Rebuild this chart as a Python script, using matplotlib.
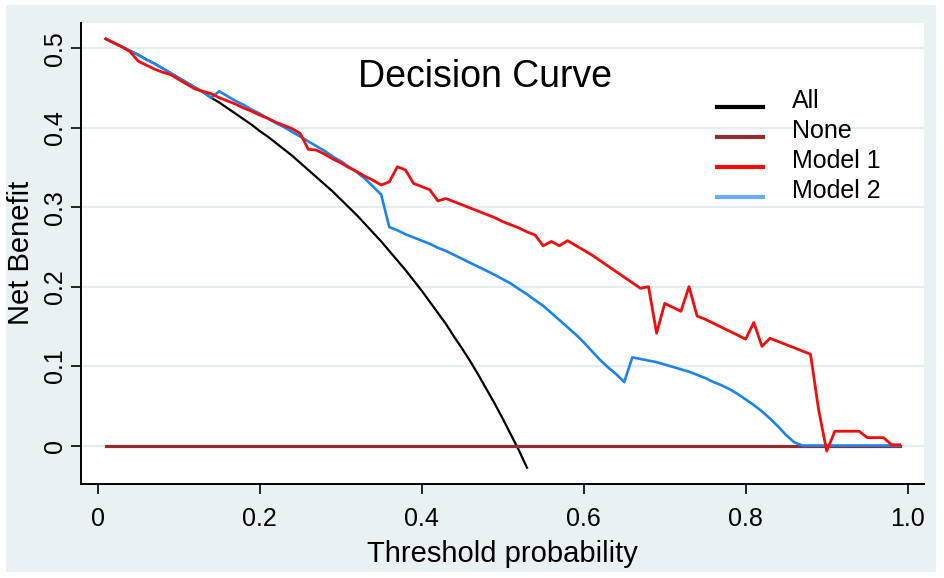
import matplotlib
matplotlib.use("Agg")
import matplotlib.pyplot as plt
from matplotlib.lines import Line2D
from matplotlib.patches import Rectangle
from matplotlib.legend_handler import HandlerLine2D

plt.rcParams['font.family'] = ['Liberation Sans', 'DejaVu Sans']

# ---------------- data ----------------
thresholds = [round(0.01 * i, 2) for i in range(1, 100)]

all_x = thresholds[:53]
all_nb = [0.512, 0.507, 0.502, 0.497, 0.492, 0.486, 0.481, 0.475, 0.469, 0.463,
          0.457, 0.451, 0.445, 0.438, 0.432, 0.425, 0.418, 0.411, 0.404, 0.396,
          0.389, 0.381, 0.373, 0.365, 0.356, 0.347, 0.338, 0.329, 0.320, 0.310,
          0.300, 0.290, 0.279, 0.268, 0.257, 0.245, 0.233, 0.221, 0.208, 0.195,
          0.181, 0.167, 0.153, 0.137, 0.122, 0.106, 0.089, 0.071, 0.053, 0.034,
          0.014, -0.006, -0.028]

none_nb = [0.0] * 99

model1_nb = [0.512, 0.507, 0.502, 0.496, 0.484, 0.479, 0.474, 0.470, 0.467, 0.461,
             0.455, 0.449, 0.446, 0.443, 0.438, 0.434, 0.430, 0.425, 0.421, 0.416,
             0.412, 0.407, 0.403, 0.399, 0.393, 0.373, 0.372, 0.367, 0.361, 0.356,
             0.350, 0.345, 0.339, 0.334, 0.328, 0.332, 0.351, 0.347, 0.330, 0.326,
             0.322, 0.308, 0.311, 0.307, 0.303, 0.299, 0.295, 0.291, 0.287, 0.282,
             0.278, 0.274, 0.269, 0.265, 0.2515, 0.257, 0.2515, 0.258, 0.252, 0.246,
             0.240, 0.233, 0.226, 0.219, 0.212, 0.205, 0.198, 0.200, 0.1415, 0.179,
             0.174, 0.169, 0.200, 0.163, 0.159, 0.154, 0.149, 0.144, 0.139, 0.134,
             0.155, 0.125, 0.135, 0.131, 0.127, 0.123, 0.119, 0.115, 0.045, -0.007,
             0.018, 0.018, 0.018, 0.018, 0.010, 0.010, 0.010, 0.001, 0.001]

model2_nb = [0.512, 0.507, 0.502, 0.497, 0.492, 0.486, 0.481, 0.475, 0.469, 0.463,
             0.457, 0.451, 0.445, 0.438, 0.446, 0.440, 0.434, 0.429, 0.423, 0.418,
             0.412, 0.406, 0.401, 0.395, 0.389, 0.383, 0.377, 0.371, 0.364, 0.358,
             0.351, 0.344, 0.336, 0.326, 0.316, 0.275, 0.271, 0.266, 0.262, 0.258,
             0.254, 0.249, 0.245, 0.240, 0.235, 0.230, 0.225, 0.220, 0.215, 0.2095,
             0.204, 0.197, 0.1905, 0.183, 0.176, 0.167, 0.158, 0.149, 0.140, 0.130,
             0.119, 0.108, 0.0985, 0.090, 0.080, 0.111, 0.109, 0.107, 0.105, 0.102,
             0.099, 0.096, 0.093, 0.089, 0.085, 0.080, 0.076, 0.071, 0.065, 0.058,
             0.051, 0.043, 0.034, 0.024, 0.013, 0.004, 0.0, 0.0, 0.0, 0.0,
             0.0, 0.0, 0.0, 0.0, 0.0, 0.0, 0.0, 0.0, 0.0]

legend_labels = ["All", "None", "Model 1", "Model 2"]
x_ticks = [0, 0.2, 0.4, 0.6, 0.8, 1.0]
x_ticklabels = ["0", "0.2", "0.4", "0.6", "0.8", "1.0"]
y_ticks = [0, 0.1, 0.2, 0.3, 0.4, 0.5]
y_ticklabels = ["0", "0.1", "0.2", "0.3", "0.4", "0.5"]

# ---------------- styling ----------------
bg = "#EAF1F3"
c_all = "#000000"
c_none = "#8E2F2F"
c_m1 = "#F20C0C"
c_m2 = "#1C84EE"
c_m2_leg = "#66AEF6"


class LoweredLineHandler(HandlerLine2D):
    """Legend line drawn a little below the label's centre, as in the reference."""

    def create_artists(self, legend, orig_handle, xdescent, ydescent,
                       width, height, fontsize, trans):
        artists = super().create_artists(legend, orig_handle, xdescent, ydescent,
                                         width, height, fontsize, trans)
        for a in artists:
            a.set_ydata([y - 0.3 * fontsize for y in a.get_ydata()])
        return artists


fig = plt.figure(figsize=(9.45, 5.78), dpi=100)
fig.patch.set_facecolor("white")
fig.patches.append(Rectangle((6 / 945, 6 / 578), 930 / 945, 567 / 578,
                             transform=fig.transFigure, facecolor=bg,
                             edgecolor="none", zorder=-10))

ax = fig.add_axes([0.0862, 0.1632, 0.8915, 0.797])
ax.set_facecolor("white")

for yv in y_ticks:
    ax.axhline(yv, color="#E4EDF0", lw=1.6, zorder=0)

ax.plot(all_x, all_nb, color=c_all, lw=1.6, zorder=2)
ax.plot(thresholds, none_nb, color=c_none, lw=2.3, zorder=3)
ax.plot(thresholds, model2_nb, color=c_m2, lw=1.9, zorder=4)
ax.plot(thresholds, model1_nb, color=c_m1, lw=2.0, zorder=5)

ax.set_xlim(-0.02, 1.02)
ax.set_ylim(-0.048, 0.532)

ax.set_xticks(x_ticks)
ax.set_xticklabels(x_ticklabels, fontsize=18)
ax.set_yticks(y_ticks)
ax.set_yticklabels(y_ticklabels, fontsize=18, rotation=90, va="center")

ax.tick_params(axis="x", direction="out", length=7, width=1.2, pad=10, colors="black")
ax.tick_params(axis="y", direction="out", length=7, width=1.2, pad=3.5, colors="black")

for s in ["top", "right"]:
    ax.spines[s].set_visible(False)
for s in ["left", "bottom"]:
    ax.spines[s].set_color("black")
    ax.spines[s].set_linewidth(1.4)

ax.set_xlabel("Threshold probability", fontsize=21, labelpad=6)
ax.set_ylabel("Net Benefit", fontsize=21, labelpad=6)

ax.text(0.478, 0.452, "Decision Curve", fontsize=27, ha="center", va="baseline")

handles = [Line2D([], [], color=c_all, lw=3),
           Line2D([], [], color=c_none, lw=3),
           Line2D([], [], color=c_m1, lw=3),
           Line2D([], [], color=c_m2_leg, lw=3)]
ax.legend(handles, legend_labels, loc="upper left", bbox_to_anchor=(0.754, 0.856),
          frameon=False, fontsize=18, handlelength=1.84, handletextpad=1.16,
          labelspacing=0.24, borderpad=0, borderaxespad=0,
          handler_map={Line2D: LoweredLineHandler()})

fig.savefig("out.png", dpi=100, facecolor=fig.get_facecolor())
